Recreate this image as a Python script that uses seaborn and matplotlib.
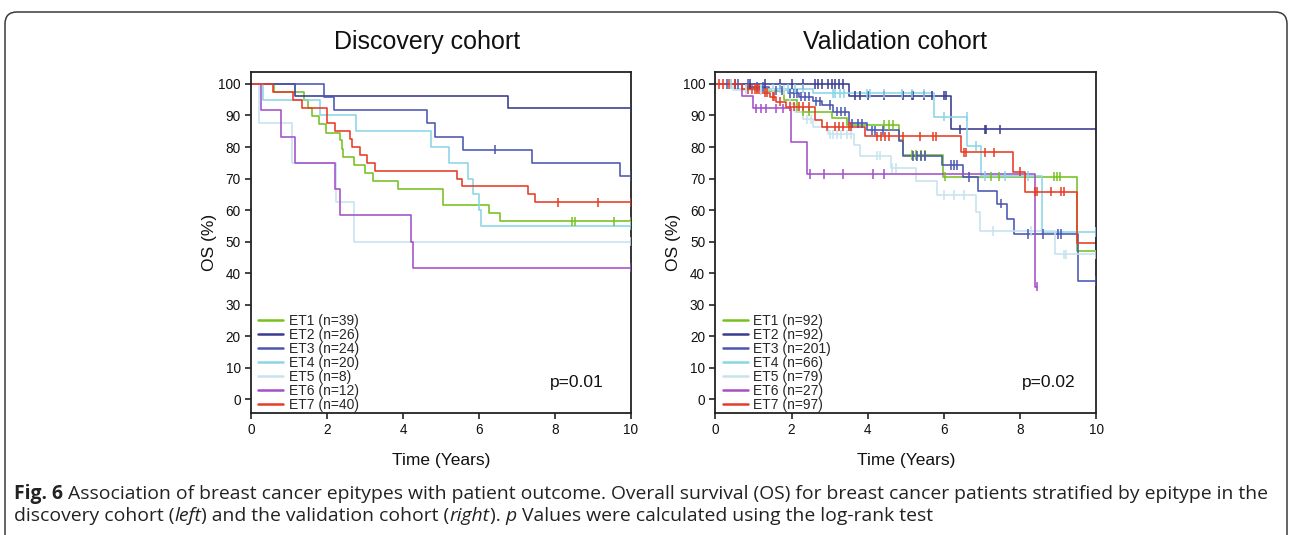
import numpy as np
import pandas as pd
import seaborn as sns
import matplotlib
matplotlib.use("Agg")
import matplotlib.pyplot as plt
from matplotlib.patches import FancyBboxPatch
from matplotlib.transforms import IdentityTransform

sns.set_theme(style="white")
plt.rcParams['font.family'] = ['Liberation Sans', 'DejaVu Sans']

# ---------------- data ----------------
groups = ["ET1", "ET2", "ET3", "ET4", "ET5", "ET6", "ET7"]
colors = ["#76C11F", "#383A8E", "#4A55B2", "#8AD5E6", "#C6E3EF", "#A24FC9", "#E63B24"]
disc_n = [39, 26, 24, 20, 8, 12, 40]
val_n = [92, 92, 201, 66, 79, 27, 97]
titles = ["Discovery cohort", "Validation cohort"]
pvals = ["p=0.01", "p=0.02"]
xticks = [0, 2, 4, 6, 8, 10]
yticks = [0, 10, 20, 30, 40, 50, 60, 70, 80, 90, 100]

# Discovery cohort: event times (years), survival (%) after each time, censor times
disc_times = {
    "ET1": [0, 0.6, 1.40, 1.49, 1.60, 1.80, 1.98, 2.33, 2.39, 2.43, 2.72, 3.0, 3.2, 3.86, 5.04, 6.25, 6.56, 10],
    "ET2": [0, 1.16, 6.76, 10],
    "ET3": [0, 1.91, 2.19, 4.63, 4.83, 5.59, 7.39, 9.72, 10],
    "ET4": [0, 0.31, 1.82, 2.77, 4.73, 5.20, 5.72, 5.83, 6.01, 6.05, 10],
    "ET5": [0, 0.21, 1.07, 2.23, 2.70, 10],
    "ET6": [0, 0.26, 0.79, 1.15, 2.21, 2.33, 4.21, 4.26, 10],
    "ET7": [0, 0.57, 1.11, 1.33, 2.01, 2.21, 2.61, 2.66, 2.86, 3.05, 3.27, 5.42, 5.55, 7.30, 7.48, 10],
}
disc_surv = {
    "ET1": [100, 97.4, 94.9, 92.3, 89.7, 87.2, 84.6, 82.1, 79.5, 76.9, 74.4, 71.8, 69.2, 66.7, 61.5, 59.0, 56.4, 56.4],
    "ET2": [100, 96.2, 92.3, 92.3],
    "ET3": [100, 95.8, 91.7, 87.5, 83.3, 79.2, 75.0, 70.8, 70.8],
    "ET4": [100, 95, 90, 85, 80, 75, 70, 65, 60, 55, 55],
    "ET5": [100, 87.5, 75, 62.5, 50, 50],
    "ET6": [100, 91.7, 83.3, 75.0, 66.7, 58.3, 50.0, 41.7, 41.7],
    "ET7": [100, 97.5, 95, 92.5, 87.5, 85, 82.5, 80, 77.5, 75, 72.5, 70, 67.5, 65, 62.5, 62.5],
}
disc_cens = {
    "ET1": [8.45, 8.52, 9.54, 10],
    "ET2": [10],
    "ET3": [6.43, 10],
    "ET4": [10],
    "ET5": [10],
    "ET6": [10],
    "ET7": [8.09, 9.12, 10],
}

# Validation cohort
val_times = {
    "ET1": [0, 0.8, 1.3, 1.8, 2.14, 3.06, 3.46, 4.82, 4.92, 5.99, 9.5, 10],
    "ET2": [0, 3.50, 6.20, 10],
    "ET3": [0, 0.9, 1.4, 1.9, 2.2, 2.55, 2.8, 3.1, 3.5, 3.98, 4.82, 4.92, 5.96, 6.5, 6.9, 7.4, 7.66, 7.85, 9.52, 10],
    "ET4": [0, 0.5, 2.55, 5.74, 6.62, 6.99, 8.57, 10],
    "ET5": [0, 0.45, 1.96, 2.1, 2.3, 2.55, 2.95, 3.63, 3.80, 4.60, 5.26, 5.83, 6.84, 6.95, 8.92, 10],
    "ET6": [0, 0.69, 0.98, 1.99, 2.40, 8.39, 8.45],
    "ET7": [0, 0.69, 1.2, 1.44, 1.6, 1.85, 2.62, 2.8, 3.92, 6.46, 7.82, 8.13, 9.50, 10],
}
val_surv = {
    "ET1": [100, 98.9, 97.8, 94.9, 91.2, 89.1, 87.0, 82.2, 77.5, 70.6, 47.1, 47.1],
    "ET2": [100, 96.3, 85.6, 85.6],
    "ET3": [100, 99, 98, 97, 96, 94.5, 93.3, 91.2, 87.5, 85.3, 82, 77.1, 74.3, 70.5, 66.1, 62, 57.2, 52.4, 37.5, 37.5],
    "ET4": [100, 98.5, 97.0, 89.6, 80.3, 70.8, 53.0, 53.0],
    "ET5": [100, 98.1, 93.5, 91.0, 88.8, 86.4, 84.0, 80.6, 77.3, 73.3, 69.3, 64.8, 59.5, 53.3, 45.9, 45.9],
    "ET6": [100, 96.3, 92.3, 81.7, 71.4, 35.7, 35.7],
    "ET7": [100, 98.4, 97.2, 96.0, 94.4, 92.8, 88.6, 86.4, 83.4, 78.3, 72.2, 65.8, 49.4, 49.4],
}
val_cens = {
    "ET1": [2.3, 2.45, 4.42, 4.55, 4.66, 5.17, 5.28, 5.39, 5.5, 6.04, 7.23, 7.45, 8.9, 8.97, 9.05],
    "ET2": [0.5, 0.9, 1.3, 1.7, 2.0, 2.3, 2.62, 2.7, 2.8, 2.95, 3.05, 3.15, 3.25, 3.35,
            3.67, 3.8, 4.02, 4.42, 4.94, 5.16, 5.2, 5.47, 5.69, 6.0, 6.07, 6.43, 7.07, 7.10, 7.49],
    "ET3": [0.3, 0.6, 0.85, 1.1, 1.25, 1.6, 1.75, 1.95, 2.05, 2.15, 2.25, 2.35, 2.45, 2.65, 2.75,
            3.0, 3.2, 3.3, 3.4, 3.6, 3.75, 3.85, 4.1, 4.2, 4.4, 5.2, 5.3, 5.4, 5.5, 6.2, 6.28, 6.35,
            6.65, 7.5, 8.2, 8.6, 9.0, 9.08, 10],
    "ET4": [0.4, 0.8, 1.2, 1.5, 1.7, 1.9, 2.1, 2.3, 3.1, 3.15, 3.28, 3.37, 3.98, 4.07, 4.42, 4.91,
            5.17, 5.48, 6.0, 6.6, 6.84, 7.07, 7.6, 8.21, 10],
    "ET5": [0.8, 1.2, 1.5, 1.8, 2.4, 2.5, 3.0, 3.1, 3.2, 3.3, 3.45, 3.55, 4.24, 4.33, 4.65, 4.75,
            6.0, 6.27, 6.53, 7.3, 8.29, 9.15, 9.2, 10],
    "ET6": [1.07, 1.2, 1.34, 1.6, 1.77, 2.49, 2.86, 3.35, 4.15, 4.44, 8.45],
    "ET7": [0.1, 0.2, 0.35, 0.5, 0.85, 0.95, 1.05, 1.1, 1.15, 1.3, 1.35, 1.5, 1.55, 1.7, 1.95,
            2.05, 2.2, 2.3, 2.45, 2.93, 3.15, 3.24, 3.36, 3.5, 3.57, 4.24, 4.35, 4.45, 4.56, 4.94,
            5.37, 5.72, 5.8, 6.53, 6.59, 7.08, 7.32, 7.99, 8.39, 8.46, 8.81, 9.07, 9.16],
}

# ---------------- figure ----------------
W, H = 1292, 535
fig = plt.figure(figsize=(W / 100, H / 100), dpi=100)

# rounded frame around the figure panel
frame = FancyBboxPatch((5, -30), 1282, H - 12 + 30, boxstyle="round,pad=0,rounding_size=12",
                       transform=IdentityTransform(), fill=False, edgecolor="#3a3a3a",
                       linewidth=1.1, figure=fig)
fig.patches.append(frame)

ax_px = [(251, 72, 631, 413), (715.5, 72, 1096, 413)]
ptext_x = [0.787, 0.806]


def make_ax(box):
    x0, y0, x1, y1 = box
    return fig.add_axes([x0 / W, 1 - y1 / H, (x1 - x0) / W, (y1 - y0) / H])


def draw(ax, times, surv, cens, ns, ptext, px):
    labels = [f"{g} (n={n})" for g, n in zip(groups, ns)]
    pal = dict(zip(labels, colors))
    rows, crows = [], []
    for g, lab in zip(groups, labels):
        t = np.array(times[g], dtype=float)
        s = np.array(surv[g], dtype=float)
        for ti, si in zip(t, s):
            rows.append((lab, ti, si))
        for c in cens[g]:
            idx = np.searchsorted(t, c, side="right") - 1
            crows.append((lab, c, s[idx]))
    df = pd.DataFrame(rows, columns=["grp", "t", "s"])
    cdf = pd.DataFrame(crows, columns=["grp", "t", "s"])
    sns.lineplot(data=df, x="t", y="s", hue="grp", hue_order=labels, palette=pal,
                 drawstyle="steps-post", estimator=None, sort=False, linewidth=1.15,
                 ax=ax)
    sns.scatterplot(data=cdf, x="t", y="s", hue="grp", hue_order=labels, palette=pal,
                    marker="|", s=45, linewidth=1.1, legend=False, ax=ax, zorder=3)
    ax.set_xlim(0, 10)
    ax.set_ylim(-4.4, 103.8)
    ax.set_xticks(xticks)
    ax.set_yticks(yticks)
    ax.tick_params(axis="both", which="both", direction="out", length=4.5, width=1.1,
                   labelsize=9.8, pad=3, color="#111", labelcolor="#111",
                   bottom=True, left=True)
    for sp in ax.spines.values():
        sp.set_color("#222")
        sp.set_linewidth(1.3)
    ax.set_xlabel("Time (Years)", fontsize=12.5, labelpad=11, color="#111")
    ax.set_ylabel("OS (%)", fontsize=12.5, labelpad=1, color="#111")
    leg = ax.legend(loc="lower left", bbox_to_anchor=(0.015, 0.0), frameon=False,
                    fontsize=10, handlelength=1.8, handletextpad=0.4, labelspacing=0.0,
                    borderaxespad=0, borderpad=0.1)
    for line in leg.get_lines():
        line.set_linewidth(1.8)
    ax.text(px, 0.075, ptext, transform=ax.transAxes, fontsize=12.5, color="#111",
            ha="left", va="baseline")


axL = make_ax(ax_px[0])
axR = make_ax(ax_px[1])
draw(axL, disc_times, disc_surv, disc_cens, disc_n, pvals[0], ptext_x[0])
draw(axR, val_times, val_surv, val_cens, val_n, pvals[1], ptext_x[1])

fig.text(427 / W, 1 - 42 / H, titles[0], fontsize=18, ha="center", va="center", color="#111")
fig.text(895 / W, 1 - 42 / H, titles[1], fontsize=18, ha="center", va="center", color="#111")

# caption, laid out piece by piece
renderer = fig.canvas.get_renderer()
cap_font = ['Open Sans', 'DejaVu Sans']

line1 = [("Fig. 6", "bold", "normal"),
         (" Association of breast cancer epitypes with patient outcome. Overall survival (OS) for breast cancer patients stratified by epitype in the",
          "normal", "normal")]
line2 = [("discovery cohort (", "normal", "normal"), ("left", "normal", "italic"),
         (") and the validation cohort (", "normal", "normal"), ("right", "normal", "italic"),
         ("). ", "normal", "normal"), ("p", "normal", "italic"),
         (" Values were calculated using the log-rank test", "normal", "normal")]


def write_line(pieces, x_px, y_px, size):
    x = x_px
    texts = []
    for txt, weight, style in pieces:
        t = fig.text(x / W, 1 - y_px / H, txt, fontsize=size, fontweight=weight,
                     fontstyle=style, family=cap_font, ha="left", va="baseline", color="#222")
        bb = t.get_window_extent(renderer=renderer)
        x += bb.width
        texts.append(t)
    return texts, x


# measure line 1 at a trial size, then scale so it spans the same width as the reference
trial, end = write_line(line1, 14, 499, 12.0)
for t in trial:
    t.remove()
cap_size = 12.0 * (1262 - 14) / (end - 14)
write_line(line1, 14, 499, cap_size)
write_line(line2, 14, 521, cap_size)

fig.savefig("out.png", dpi=100)
